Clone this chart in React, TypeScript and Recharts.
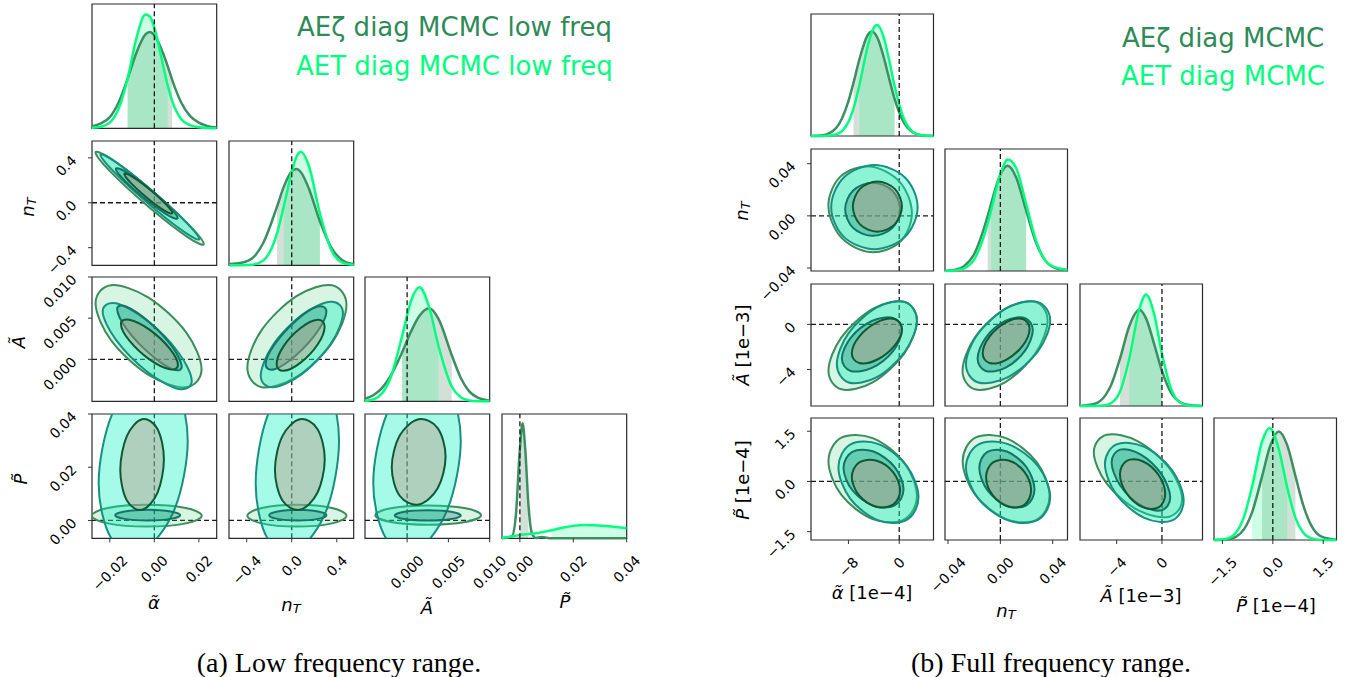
import React from "react";
import {
  Area,
  ComposedChart,
  Line,
  ReferenceArea,
  ReferenceLine,
  Scatter,
  ScatterChart,
  XAxis,
  YAxis,
} from "recharts";

type Pt = [number, number];
type Range = [number, number];

/* ---------------- (a) low frequency range ---------------- */

const LOW_ALPHA_TICKS = [-0.02, 0, 0.02];
const LOW_ALPHA_LABELS = ["\u22120.02", "0.00", "0.02"];
const LOW_NT_TICKS = [-0.4, 0, 0.4];
const LOW_NT_LABELS = ["\u22120.4", "0.0", "0.4"];
const LOW_A_TICKS = [0, 0.005, 0.01];
const LOW_A_LABELS = ["0.000", "0.005", "0.010"];
const LOW_P_TICKS = [0, 0.02, 0.04];
const LOW_P_LABELS = ["0.00", "0.02", "0.04"];

// 1D marginals: grid, density (peak-normalised), 68% interval
const LOW_ALPHA_GRID = [-0.028, -0.024, -0.02, -0.016, -0.012, -0.008, -0.004, -0.002, 0, 0.004, 0.006, 0.008, 0.012, 0.016, 0.02, 0.024, 0.028];
const LOW_ALPHA_AEZ = [0.015, 0.04, 0.09, 0.21, 0.4, 0.61, 0.755, 0.775, 0.75, 0.6, 0.5, 0.39, 0.21, 0.1, 0.045, 0.017, 0.006];
const LOW_ALPHA_AET = [0.004, 0.012, 0.045, 0.16, 0.4, 0.73, 0.915, 0.9, 0.81, 0.5, 0.345, 0.22, 0.075, 0.025, 0.008, 0.002, 0];
const LOW_ALPHA_AEZ_CI: Range = [-0.012, 0.008];
const LOW_ALPHA_AET_CI: Range = [-0.012, 0.006];

const LOW_NT_GRID = [-0.555, -0.45, -0.35, -0.25, -0.13, -0.07, 0, 0.04, 0.08, 0.15, 0.25, 0.35, 0.45, 0.555];
const LOW_NT_AEZ = [0.01, 0.02, 0.057, 0.185, 0.474, 0.633, 0.755, 0.774, 0.751, 0.622, 0.354, 0.144, 0.041, 0.008];
const LOW_NT_AET = [0, 0.001, 0.005, 0.041, 0.258, 0.477, 0.754, 0.869, 0.914, 0.807, 0.419, 0.125, 0.021, 0.002];
const LOW_NT_AEZ_CI: Range = [-0.13, 0.25];
const LOW_NT_AET_CI: Range = [-0.07, 0.25];

const LOW_A_GRID = [-0.0052, -0.004, -0.003, -0.002, -0.0006, 0.0005, 0.0015, 0.0027, 0.0038, 0.0054, 0.0065, 0.0075, 0.0085, 0.01];
const LOW_A_AEZ = [0.018, 0.053, 0.11, 0.204, 0.394, 0.565, 0.688, 0.748, 0.663, 0.372, 0.188, 0.082, 0.031, 0.005];
const LOW_A_AET = [0.003, 0.018, 0.067, 0.19, 0.525, 0.813, 0.917, 0.749, 0.446, 0.119, 0.033, 0.007, 0.001, 0];
const LOW_A_AEZ_CI: Range = [-0.0006, 0.0054];
const LOW_A_AET_CI: Range = [-0.0006, 0.0038];

const LOW_P_GRID = [-0.0068, -0.003, -0.0015, 0, 0.001, 0.002, 0.0032, 0.0045, 0.006, 0.008, 0.012, 0.016, 0.02, 0.024, 0.028, 0.032, 0.036, 0.04];
const LOW_P_AEZ = [0, 0.015, 0.186, 0.718, 0.925, 0.718, 0.27, 0.04, 0.002, 0.01, 0, 0, 0, 0, 0, 0, 0, 0];
const LOW_P_AET = [0.005, 0.015, 0.02, 0.027, 0.03, 0.032, 0.035, 0.037, 0.04, 0.048, 0.065, 0.085, 0.1, 0.107, 0.105, 0.098, 0.09, 0.08];
const LOW_P_AEZ_CI: Range = [0, 0.0032];
const LOW_P_AET_CI: Range = [0.012, 0.04];

// 2D contours (95% and 68%), outline points
const LOW_NT_ALPHA_AEZ_95: Pt[] = [[0.0222, -0.367], [0.0151, -0.188], [-0.0021, 0.125], [-0.0193, 0.388], [-0.0264, 0.447], [-0.0193, 0.268], [-0.0021, -0.045], [0.0151, -0.308]];
const LOW_NT_ALPHA_AET_95: Pt[] = [[0.0202, -0.323], [0.0137, -0.162], [-0.002, 0.124], [-0.0177, 0.368], [-0.0242, 0.427], [-0.0177, 0.266], [-0.002, -0.02], [0.0137, -0.264]];
const LOW_NT_ALPHA_AEZ_68: Pt[] = [[0.0105, -0.136], [0.0064, -0.03], [-0.0034, 0.142], [-0.0132, 0.279], [-0.0173, 0.3], [-0.0132, 0.194], [-0.0034, 0.022], [0.0064, -0.115]];
const LOW_NT_ALPHA_AET_68: Pt[] = [[0.0081, -0.091], [0.0049, -0.006], [-0.0027, 0.13], [-0.0103, 0.238], [-0.0135, 0.255], [-0.0103, 0.17], [-0.0027, 0.034], [0.0049, -0.074]];

const LOW_A_ALPHA_AEZ_95: Pt[] = [[0.0212, -0.0012], [0.0142, 0.0033], [-0.0026, 0.0075], [-0.0194, 0.009], [-0.0264, 0.0068], [-0.0194, 0.0023], [-0.0026, -0.0019], [0.0142, -0.0034]];
const LOW_A_ALPHA_AET_95: Pt[] = [[0.0168, -0.0026], [0.0109, 0.0008], [-0.0032, 0.0047], [-0.0173, 0.0068], [-0.0232, 0.0058], [-0.0173, 0.0024], [-0.0032, -0.0015], [0.0109, -0.0036]];
const LOW_A_ALPHA_AEZ_68: Pt[] = [[0.0123, -0.0009], [0.0081, 0.0015], [-0.0022, 0.0045], [-0.0125, 0.0064], [-0.0167, 0.0061], [-0.0125, 0.0037], [-0.0022, 0.0007], [0.0081, -0.0012]];
const LOW_A_ALPHA_AET_68: Pt[] = [[0.0106, -0.0007], [0.0069, 0.0013], [-0.0022, 0.0036], [-0.0113, 0.0048], [-0.015, 0.0043], [-0.0113, 0.0023], [-0.0022, 0], [0.0069, -0.0012]];

const LOW_A_NT_AEZ_95: Pt[] = [[0.486, 0.0066], [0.357, 0.009], [0.046, 0.0077], [-0.265, 0.0036], [-0.394, -0.001], [-0.265, -0.0034], [0.046, -0.0021], [0.357, 0.002]];
const LOW_A_NT_AET_95: Pt[] = [[0.455, 0.0056], [0.348, 0.007], [0.09, 0.0054], [-0.168, 0.0017], [-0.275, -0.002], [-0.168, -0.0034], [0.09, -0.0018], [0.348, 0.0019]];
const LOW_A_NT_AEZ_68: Pt[] = [[0.308, 0.0058], [0.229, 0.0064], [0.038, 0.0047], [-0.153, 0.0018], [-0.232, -0.0006], [-0.153, -0.0012], [0.038, 0.0005], [0.229, 0.0034]];
const LOW_A_NT_AET_68: Pt[] = [[0.292, 0.004], [0.23, 0.0048], [0.079, 0.0038], [-0.072, 0.0016], [-0.134, -0.0006], [-0.072, -0.0014], [0.079, -0.0004], [0.23, 0.0018]];

const LOW_P_ALPHA_AEZ_95: Pt[] = [[0.0213, 0.0018], [0.0141, 0.0047], [-0.0034, 0.0059], [-0.0209, 0.0047], [-0.0281, 0.0018], [-0.0209, -0.0011], [-0.0034, -0.0023], [0.0141, -0.0011]];
const LOW_P_ALPHA_AET_95: Pt[] = [[0.015, 0.03], [0.0091, 0.051], [-0.005, 0.055], [-0.0191, 0.0397], [-0.025, 0.014], [-0.0191, -0.007], [-0.005, -0.011], [0.0091, 0.0043]];
const LOW_P_ALPHA_AEZ_68: Pt[] = [[0.0116, 0.002], [0.0073, 0.0034], [-0.003, 0.004], [-0.0133, 0.0034], [-0.0176, 0.002], [-0.0133, 0.0006], [-0.003, 0], [0.0073, 0.0006]];
const LOW_P_ALPHA_AET_68: Pt[] = [[0.0043, 0.023], [0.0014, 0.0344], [-0.0055, 0.038], [-0.0124, 0.0316], [-0.0153, 0.019], [-0.0124, 0.0076], [-0.0055, 0.004], [0.0014, 0.0104]];

const LOW_P_NT_AEZ_95: Pt[] = [[0.486, 0.0018], [0.357, 0.0047], [0.046, 0.0059], [-0.265, 0.0047], [-0.394, 0.0018], [-0.265, -0.0011], [0.046, -0.0023], [0.357, -0.0011]];
const LOW_P_NT_AET_95: Pt[] = [[0.42, 0.03], [0.312, 0.051], [0.05, 0.055], [-0.212, 0.0397], [-0.32, 0.014], [-0.212, -0.007], [0.05, -0.011], [0.312, 0.0043]];
const LOW_P_NT_AEZ_68: Pt[] = [[0.308, 0.002], [0.234, 0.0034], [0.054, 0.004], [-0.126, 0.0034], [-0.2, 0.002], [-0.126, 0.0006], [0.054, 0], [0.234, 0.0006]];
const LOW_P_NT_AET_68: Pt[] = [[0.293, 0.023], [0.228, 0.0344], [0.072, 0.038], [-0.084, 0.0316], [-0.149, 0.019], [-0.084, 0.0076], [0.072, 0.004], [0.228, 0.0104]];

const LOW_P_A_AEZ_95: Pt[] = [[0.00895, 0.002], [0.00707, 0.00455], [0.00255, 0.0056], [-0.00197, 0.00455], [-0.00385, 0.002], [-0.00197, -0.00055], [0.00255, -0.0016], [0.00707, -0.00055]];
const LOW_P_A_AET_95: Pt[] = [[0.0065, 0.03], [0.0049, 0.051], [0.0012, 0.055], [-0.0025, 0.0397], [-0.0041, 0.014], [-0.0025, -0.007], [0.0012, -0.011], [0.0049, 0.0043]];
const LOW_P_A_AEZ_68: Pt[] = [[0.0065, 0.0019], [0.00533, 0.00324], [0.0025, 0.0038], [-0.00033, 0.00324], [-0.0015, 0.0019], [-0.00033, 0.00056], [0.0025, 0], [0.00533, 0.00056]];
const LOW_P_A_AET_68: Pt[] = [[0.00466, 0.024], [0.0037, 0.0347], [0.0014, 0.038], [-0.0009, 0.0319], [-0.00186, 0.02], [-0.0009, 0.0093], [0.0014, 0.006], [0.0037, 0.0121]];

/* ---------------- (b) full frequency range ---------------- */

const FULL_ALPHA_TICKS = [-8, 0];
const FULL_ALPHA_LABELS = ["\u22128", "0"];
const FULL_NT_TICKS = [-0.04, 0, 0.04];
const FULL_NT_LABELS = ["\u22120.04", "0.00", "0.04"];
const FULL_A_TICKS = [-4, 0];
const FULL_A_LABELS = ["\u22124", "0"];
const FULL_P_TICKS = [-1.5, 0, 1.5];
const FULL_P_LABELS = ["\u22121.5", "0.0", "1.5"];

const FULL_ALPHA_GRID = [-13.9, -12, -10, -8, -7.2, -6.26, -5, -4.3, -3.5, -2.5, -1.5, -0.74, 0.5, 2, 3.5, 5.4];
const FULL_ALPHA_AEZ = [0.001, 0.007, 0.062, 0.286, 0.437, 0.631, 0.824, 0.856, 0.812, 0.657, 0.452, 0.307, 0.133, 0.035, 0.006, 0];
const FULL_ALPHA_AET = [0, 0.001, 0.012, 0.116, 0.227, 0.42, 0.728, 0.855, 0.91, 0.819, 0.6, 0.412, 0.174, 0.04, 0.006, 0];
const FULL_ALPHA_AEZ_CI: Range = [-7.2, -0.74];
const FULL_ALPHA_AET_CI: Range = [-6.26, -0.74];

const FULL_NT_GRID = [-0.0425, -0.035, -0.028, -0.02, -0.0097, -0.0071, 0, 0.0056, 0.012, 0.0197, 0.027, 0.034, 0.042, 0.0516];
const FULL_NT_AEZ = [0.001, 0.009, 0.037, 0.139, 0.45, 0.55, 0.79, 0.862, 0.769, 0.496, 0.24, 0.091, 0.025, 0.008];
const FULL_NT_AET = [0, 0.004, 0.02, 0.095, 0.388, 0.497, 0.791, 0.913, 0.846, 0.551, 0.259, 0.091, 0.03, 0.01];
const FULL_NT_AEZ_CI: Range = [-0.0097, 0.0197];
const FULL_NT_AET_CI: Range = [-0.0071, 0.0197];

const FULL_A_GRID = [-7.24, -6, -5, -4.5, -3.71, -2.88, -2, -1.4, -0.7, 0, 0.8, 1.6, 2.5, 3.58];
const FULL_A_AEZ = [0.001, 0.016, 0.087, 0.17, 0.388, 0.656, 0.788, 0.716, 0.511, 0.287, 0.109, 0.031, 0.006, 0.001];
const FULL_A_AET = [0, 0, 0.006, 0.022, 0.117, 0.392, 0.795, 0.913, 0.756, 0.429, 0.142, 0.029, 0.003, 0];
const FULL_A_AEZ_CI: Range = [-3.71, 0];
const FULL_A_AET_CI: Range = [-2.88, 0];

const FULL_P_GRID = [-1.77, -1.4, -1.1, -0.85, -0.615, -0.318, -0.1, 0.178, 0.425, 0.674, 0.9, 1.15, 1.45, 1.89];
const FULL_P_AEZ = [0, 0.004, 0.026, 0.091, 0.229, 0.523, 0.753, 0.89, 0.78, 0.523, 0.289, 0.116, 0.028, 0.002];
const FULL_P_AET = [0, 0.009, 0.06, 0.196, 0.44, 0.808, 0.918, 0.745, 0.435, 0.181, 0.061, 0.013, 0.001, 0];
const FULL_P_AEZ_CI: Range = [-0.318, 0.674];
const FULL_P_AET_CI: Range = [-0.615, 0.425];

const FULL_NT_ALPHA_AEZ_95: Pt[] = [[2.0, 0.002], [0.07, 0.0261], [-4.58, 0.0378], [-9.23, 0.0303], [-11.16, 0.008], [-9.23, -0.0161], [-4.58, -0.0278], [0.07, -0.0203]];
const FULL_NT_ALPHA_AET_95: Pt[] = [[2.9, 0.0067], [0.9, 0.0295], [-3.91, 0.039], [-8.73, 0.0295], [-10.72, 0.0067], [-8.73, -0.0161], [-3.91, -0.0256], [0.9, -0.0161]];
const FULL_NT_ALPHA_AEZ_68: Pt[] = [[0.16, 0.0051], [-1.11, 0.0195], [-4.18, 0.0255], [-7.25, 0.0195], [-8.52, 0.0051], [-7.25, -0.0093], [-4.18, -0.0153], [-1.11, -0.0093]];
const FULL_NT_ALPHA_AET_68: Pt[] = [[0.43, 0.0071], [-0.7, 0.0207], [-3.44, 0.0263], [-6.18, 0.0207], [-7.31, 0.0071], [-6.18, -0.0065], [-3.44, -0.0121], [-0.7, -0.0065]];

const FULL_A_ALPHA_AEZ_95: Pt[] = [[2.79, 0.35], [0.75, 2.0], [-4.18, 1.38], [-9.11, -1.15], [-11.15, -4.11], [-9.11, -5.76], [-4.18, -5.14], [0.75, -2.61]];
const FULL_A_ALPHA_AET_95: Pt[] = [[2.79, 0.35], [0.94, 1.97], [-3.52, 1.5], [-7.98, -0.78], [-9.83, -3.53], [-7.98, -5.15], [-3.52, -4.68], [0.94, -2.4]];
const FULL_A_ALPHA_AEZ_68: Pt[] = [[0.42, -0.53], [-0.97, 0.57], [-4.31, 0.3], [-7.65, -1.19], [-9.04, -3.03], [-7.65, -4.13], [-4.31, -3.86], [-0.97, -2.37]];
const FULL_A_ALPHA_AET_68: Pt[] = [[0.43, -0.38], [-0.73, 0.47], [-3.52, 0.18], [-6.31, -1.08], [-7.47, -2.58], [-6.31, -3.43], [-3.52, -3.14], [-0.73, -1.88]];

const FULL_A_NT_AEZ_95: Pt[] = [[0.0361, 0.35], [0.0266, 2.0], [0.0036, 1.38], [-0.0194, -1.15], [-0.0289, -4.11], [-0.0194, -5.76], [0.0036, -5.14], [0.0266, -2.61]];
const FULL_A_NT_AET_95: Pt[] = [[0.0381, 0.35], [0.0287, 1.97], [0.0059, 1.5], [-0.0169, -0.78], [-0.0263, -3.53], [-0.0169, -5.15], [0.0059, -4.68], [0.0287, -2.4]];
const FULL_A_NT_AEZ_68: Pt[] = [[0.0248, -0.53], [0.0186, 0.57], [0.0037, 0.3], [-0.0112, -1.19], [-0.0174, -3.03], [-0.0112, -4.13], [0.0037, -3.86], [0.0186, -2.37]];
const FULL_A_NT_AET_68: Pt[] = [[0.0223, -0.38], [0.0171, 0.47], [0.0044, 0.18], [-0.0083, -1.08], [-0.0135, -2.58], [-0.0083, -3.43], [0.0044, -3.14], [0.0171, -1.88]];

const FULL_P_ALPHA_AEZ_95: Pt[] = [[2.79, -0.436], [0.75, 0.572], [-4.18, 1.294], [-9.11, 1.307], [-11.15, 0.604], [-9.11, -0.404], [-4.18, -1.126], [0.75, -1.139]];
const FULL_P_ALPHA_AET_95: Pt[] = [[3.04, -0.475], [1.19, 0.463], [-3.27, 1.115], [-7.73, 1.099], [-9.58, 0.425], [-7.73, -0.513], [-3.27, -1.165], [1.19, -1.149]];
const FULL_P_ALPHA_AEZ_68: Pt[] = [[0.68, -0.236], [-0.71, 0.43], [-4.05, 0.894], [-7.39, 0.883], [-8.78, 0.404], [-7.39, -0.262], [-4.05, -0.726], [-0.71, -0.715]];
const FULL_P_ALPHA_AET_68: Pt[] = [[0.15, -0.266], [-0.97, 0.28], [-3.66, 0.624], [-6.35, 0.563], [-7.47, 0.134], [-6.35, -0.412], [-3.66, -0.756], [-0.97, -0.695]];

const FULL_P_NT_AEZ_95: Pt[] = [[0.0376, -0.436], [0.0279, 0.572], [0.0044, 1.294], [-0.0191, 1.307], [-0.0288, 0.604], [-0.0191, -0.404], [0.0044, -1.126], [0.0279, -1.139]];
const FULL_P_NT_AET_95: Pt[] = [[0.0381, -0.475], [0.0287, 0.463], [0.0059, 1.115], [-0.0169, 1.099], [-0.0263, 0.425], [-0.0169, -0.513], [0.0059, -1.165], [0.0287, -1.149]];
const FULL_P_NT_AEZ_68: Pt[] = [[0.0261, -0.236], [0.0199, 0.43], [0.005, 0.894], [-0.0099, 0.883], [-0.0161, 0.404], [-0.0099, -0.262], [0.005, -0.726], [0.0199, -0.715]];
const FULL_P_NT_AET_68: Pt[] = [[0.0235, -0.266], [0.0185, 0.28], [0.0063, 0.624], [-0.0059, 0.563], [-0.0109, 0.134], [-0.0059, -0.412], [0.0063, -0.756], [0.0185, -0.695]];

const FULL_P_A_AEZ_95: Pt[] = [[1.78, -0.53], [0.64, 0.403], [-2.12, 1.2], [-4.88, 1.393], [-6.02, 0.87], [-4.88, -0.063], [-2.12, -0.86], [0.64, -1.053]];
const FULL_P_A_AET_95: Pt[] = [[1.92, -0.577], [0.9, 0.333], [-1.56, 1.03], [-4.02, 1.106], [-5.04, 0.517], [-4.02, -0.393], [-1.56, -1.09], [0.9, -1.166]];
const FULL_P_A_AEZ_68: Pt[] = [[0.73, -0.478], [-0.03, 0.211], [-1.86, 0.803], [-3.69, 0.951], [-4.45, 0.568], [-3.69, -0.121], [-1.86, -0.713], [-0.03, -0.861]];
const FULL_P_A_AET_68: Pt[] = [[0.29, -0.379], [-0.3, 0.193], [-1.71, 0.604], [-3.12, 0.614], [-3.71, 0.217], [-3.12, -0.355], [-1.71, -0.766], [-0.3, -0.776]];

/* ---------------- layout & styles ---------------- */

const M = 4; // inner margin so the frame stroke is not clipped
const YW = 100; // room for rotated y tick labels
const XH = 100; // room for rotated x tick labels
const TICK_FONT = 14;
const FONT = "'DejaVu Sans', sans-serif";

const AEZ_LINE = "#3b8f62";
const AET_LINE = "#00ff7f";
const AEZ_BAND = "rgba(80,130,100,0.25)";
const AET_BAND = "rgba(0,255,127,0.2)";

interface ContourStyle {
  fill: string;
  stroke: string;
}
// drawn in this order: AEζ 95%, AET 95%, AEζ 68%, AET 68%
const CONTOUR_STYLES: ContourStyle[] = [
  { fill: "rgba(60,200,110,0.2)", stroke: "#3b8c5e" },
  { fill: "rgba(0,240,190,0.35)", stroke: "#18907f" },
  { fill: "rgba(20,120,100,0.3)", stroke: "#137566" },
  { fill: "rgba(190,150,130,0.42)", stroke: "#0e5a36" },
];

interface Axis {
  domain: Range;
  ticks: number[];
  labels: string[];
}

interface Grid {
  cols: number[];
  rows: number[];
  w: number;
  h: number;
}

const LOW_GRID: Grid = { cols: [92, 228.7, 365.4, 502.1], rows: [3.8, 140.5, 277.2, 413.9], w: 124.7, h: 124.3 };
const FULL_GRID: Grid = { cols: [811, 945.45, 1079.9, 1214.35], rows: [14, 148.8, 283.6, 418.4], w: 122.5, h: 122 };

const LOW_AXES: Axis[] = [
  { domain: [-0.028, 0.028], ticks: LOW_ALPHA_TICKS, labels: LOW_ALPHA_LABELS },
  { domain: [-0.557, 0.55], ticks: LOW_NT_TICKS, labels: LOW_NT_LABELS },
  { domain: [-0.0051, 0.01], ticks: LOW_A_TICKS, labels: LOW_A_LABELS },
  { domain: [-0.0067, 0.04], ticks: LOW_P_TICKS, labels: LOW_P_LABELS },
];
const FULL_AXES: Axis[] = [
  { domain: [-13.9, 5.4], ticks: FULL_ALPHA_TICKS, labels: FULL_ALPHA_LABELS },
  { domain: [-0.0423, 0.0513], ticks: FULL_NT_TICKS, labels: FULL_NT_LABELS },
  { domain: [-7.24, 3.58], ticks: FULL_A_TICKS, labels: FULL_A_LABELS },
  { domain: [-1.75, 1.895], ticks: FULL_P_TICKS, labels: FULL_P_LABELS },
];

interface MarginalRow {
  x: number;
  aez: number;
  aet: number;
  aezBand: number | null;
  aetBand: number | null;
}

function marginalRows(grid: number[], aez: number[], aet: number[], aezCi: Range, aetCi: Range): MarginalRow[] {
  return grid.map((x, i) => ({
    x,
    aez: aez[i],
    aet: aet[i],
    aezBand: x >= aezCi[0] && x <= aezCi[1] ? aez[i] : null,
    aetBand: x >= aetCi[0] && x <= aetCi[1] ? aet[i] : null,
  }));
}

const LOW_MARGINALS = [
  marginalRows(LOW_ALPHA_GRID, LOW_ALPHA_AEZ, LOW_ALPHA_AET, LOW_ALPHA_AEZ_CI, LOW_ALPHA_AET_CI),
  marginalRows(LOW_NT_GRID, LOW_NT_AEZ, LOW_NT_AET, LOW_NT_AEZ_CI, LOW_NT_AET_CI),
  marginalRows(LOW_A_GRID, LOW_A_AEZ, LOW_A_AET, LOW_A_AEZ_CI, LOW_A_AET_CI),
  marginalRows(LOW_P_GRID, LOW_P_AEZ, LOW_P_AET, LOW_P_AEZ_CI, LOW_P_AET_CI),
];
const FULL_MARGINALS = [
  marginalRows(FULL_ALPHA_GRID, FULL_ALPHA_AEZ, FULL_ALPHA_AET, FULL_ALPHA_AEZ_CI, FULL_ALPHA_AET_CI),
  marginalRows(FULL_NT_GRID, FULL_NT_AEZ, FULL_NT_AET, FULL_NT_AEZ_CI, FULL_NT_AET_CI),
  marginalRows(FULL_A_GRID, FULL_A_AEZ, FULL_A_AET, FULL_A_AEZ_CI, FULL_A_AET_CI),
  marginalRows(FULL_P_GRID, FULL_P_AEZ, FULL_P_AET, FULL_P_AEZ_CI, FULL_P_AET_CI),
];

interface Pair {
  row: number;
  col: number;
  sets: Pt[][];
}

const LOW_PAIRS: Pair[] = [
  { row: 1, col: 0, sets: [LOW_NT_ALPHA_AEZ_95, LOW_NT_ALPHA_AET_95, LOW_NT_ALPHA_AEZ_68, LOW_NT_ALPHA_AET_68] },
  { row: 2, col: 0, sets: [LOW_A_ALPHA_AEZ_95, LOW_A_ALPHA_AET_95, LOW_A_ALPHA_AEZ_68, LOW_A_ALPHA_AET_68] },
  { row: 2, col: 1, sets: [LOW_A_NT_AEZ_95, LOW_A_NT_AET_95, LOW_A_NT_AEZ_68, LOW_A_NT_AET_68] },
  { row: 3, col: 0, sets: [LOW_P_ALPHA_AEZ_95, LOW_P_ALPHA_AET_95, LOW_P_ALPHA_AEZ_68, LOW_P_ALPHA_AET_68] },
  { row: 3, col: 1, sets: [LOW_P_NT_AEZ_95, LOW_P_NT_AET_95, LOW_P_NT_AEZ_68, LOW_P_NT_AET_68] },
  { row: 3, col: 2, sets: [LOW_P_A_AEZ_95, LOW_P_A_AET_95, LOW_P_A_AEZ_68, LOW_P_A_AET_68] },
];
const FULL_PAIRS: Pair[] = [
  { row: 1, col: 0, sets: [FULL_NT_ALPHA_AEZ_95, FULL_NT_ALPHA_AET_95, FULL_NT_ALPHA_AEZ_68, FULL_NT_ALPHA_AET_68] },
  { row: 2, col: 0, sets: [FULL_A_ALPHA_AEZ_95, FULL_A_ALPHA_AET_95, FULL_A_ALPHA_AEZ_68, FULL_A_ALPHA_AET_68] },
  { row: 2, col: 1, sets: [FULL_A_NT_AEZ_95, FULL_A_NT_AET_95, FULL_A_NT_AEZ_68, FULL_A_NT_AET_68] },
  { row: 3, col: 0, sets: [FULL_P_ALPHA_AEZ_95, FULL_P_ALPHA_AET_95, FULL_P_ALPHA_AEZ_68, FULL_P_ALPHA_AET_68] },
  { row: 3, col: 1, sets: [FULL_P_NT_AEZ_95, FULL_P_NT_AET_95, FULL_P_NT_AEZ_68, FULL_P_NT_AET_68] },
  { row: 3, col: 2, sets: [FULL_P_A_AEZ_95, FULL_P_A_AET_95, FULL_P_A_AEZ_68, FULL_P_A_AET_68] },
];

/* ---------------- rendering helpers ---------------- */

const glyphWidth = (c: string) => (c === "." ? 0.318 : c === "\u2212" ? 0.838 : 0.636) * TICK_FONT;
const textWidth = (s: string) => Array.from(s).reduce((a, c) => a + glyphWidth(c), 0);

const tickLabel = (axis: Axis, v: number) => {
  const i = axis.ticks.findIndex((t) => Math.abs(t - v) < 1e-12);
  return i >= 0 ? axis.labels[i] : String(v);
};

// x tick labels: rotated 45°, bounding box centred under the tick
const xTick = (axis: Axis, base: number) => (props: any) => {
  const { x, payload } = props;
  const s = tickLabel(axis, payload.value);
  const cy = base + 15 + (textWidth(s) + 13) * 0.3536;
  return (
    <text x={x} y={cy} textAnchor="middle" dominantBaseline="central" fontSize={TICK_FONT} fontFamily={FONT} fill="#000" transform={`rotate(-45 ${x} ${cy})`}>
      {s}
    </text>
  );
};

// y tick labels: rotated 45°, right end anchored at the tick
const yTick = (axis: Axis, axisX: number) => (props: any) => {
  const { y, payload } = props;
  const s = tickLabel(axis, payload.value);
  const ax = axisX - 18;
  return (
    <text x={ax} y={y} textAnchor="end" dominantBaseline="central" fontSize={TICK_FONT} fontFamily={FONT} fill="#000" transform={`rotate(-45 ${ax} ${y})`}>
      {s}
    </text>
  );
};

// smooth closed outline through the contour points (Catmull-Rom)
function closedSpline(p: { x: number; y: number }[]) {
  const n = p.length;
  let d = `M${p[0].x},${p[0].y}`;
  for (let i = 0; i < n; i++) {
    const a = p[(i - 1 + n) % n];
    const b = p[i];
    const c = p[(i + 1) % n];
    const e = p[(i + 2) % n];
    d += `C${b.x + (c.x - a.x) / 6},${b.y + (c.y - a.y) / 6} ${c.x - (e.x - b.x) / 6},${c.y - (e.y - b.y) / 6} ${c.x},${c.y}`;
  }
  return d + "Z";
}

const contourLine = (s: ContourStyle) => (props: any) => (
  <path d={closedSpline(props.points)} fill={s.fill} stroke={s.stroke} strokeWidth={2} strokeLinejoin="round" />
);

const noDot = () => <g />;

const dashed = { stroke: "#1a1a1a", strokeWidth: 1.3, strokeDasharray: "5 3" };

function xAxisEl(axis: Axis, show: boolean, base: number) {
  return (
    <XAxis
      type="number"
      dataKey="x"
      domain={axis.domain}
      allowDataOverflow
      hide={!show}
      height={XH}
      ticks={axis.ticks}
      interval={0}
      tickSize={4}
      axisLine={false}
      tickLine={{ stroke: "#333" }}
      tick={xTick(axis, base)}
    />
  );
}

function yAxisEl(axis: Axis, show: boolean, axisX: number) {
  return (
    <YAxis
      type="number"
      dataKey="y"
      domain={axis.domain}
      allowDataOverflow
      hide={!show}
      width={YW}
      ticks={axis.ticks}
      interval={0}
      tickSize={4}
      axisLine={false}
      tickLine={{ stroke: "#333" }}
      tick={yTick(axis, axisX)}
    />
  );
}

function MarginalPanel({ grid, idx, axis, rows, showX }: { grid: Grid; idx: number; axis: Axis; rows: MarginalRow[]; showX: boolean }) {
  return (
    <div style={{ position: "absolute", left: grid.cols[idx] - M, top: grid.rows[idx] - M }}>
      <ComposedChart
        width={grid.w + 2 * M}
        height={grid.h + 2 * M + (showX ? XH : 0)}
        data={rows}
        margin={{ top: M, right: M, bottom: M, left: M }}
      >
        {xAxisEl(axis, showX, M + grid.h)}
        <YAxis type="number" domain={[0, 1]} hide />
        <Area dataKey="aezBand" type="monotone" stroke="none" fill={AEZ_BAND} fillOpacity={1} connectNulls={false} isAnimationActive={false} />
        <Area dataKey="aetBand" type="monotone" stroke="none" fill={AET_BAND} fillOpacity={1} connectNulls={false} isAnimationActive={false} />
        <Line dataKey="aez" type="monotone" stroke={AEZ_LINE} strokeWidth={2.5} dot={false} isAnimationActive={false} />
        <Line dataKey="aet" type="monotone" stroke={AET_LINE} strokeWidth={2.5} dot={false} isAnimationActive={false} />
        <ReferenceLine x={0} {...dashed} />
        <ReferenceArea x1={axis.domain[0]} x2={axis.domain[1]} y1={0} y2={1} fill="none" stroke="#2b2b2b" strokeWidth={1.2} />
      </ComposedChart>
    </div>
  );
}

function PairPanel({ grid, pair, xa, ya, showX, showY }: { grid: Grid; pair: Pair; xa: Axis; ya: Axis; showX: boolean; showY: boolean }) {
  const yw = showY ? YW : 0;
  return (
    <div style={{ position: "absolute", left: grid.cols[pair.col] - M - yw, top: grid.rows[pair.row] - M }}>
      <ScatterChart
        width={grid.w + 2 * M + yw}
        height={grid.h + 2 * M + (showX ? XH : 0)}
        margin={{ top: M, right: M, bottom: M, left: M }}
      >
        {xAxisEl(xa, showX, M + grid.h)}
        {yAxisEl(ya, showY, M + yw)}
        {pair.sets.map((pts, i) => (
          <Scatter
            key={i}
            data={pts.map(([x, y]) => ({ x, y }))}
            shape={noDot}
            line={contourLine(CONTOUR_STYLES[i])}
            lineType="joint"
            fill={CONTOUR_STYLES[i].stroke}
            isAnimationActive={false}
          />
        ))}
        <ReferenceLine x={0} {...dashed} />
        <ReferenceLine y={0} {...dashed} />
        <ReferenceArea x1={xa.domain[0]} x2={xa.domain[1]} y1={ya.domain[0]} y2={ya.domain[1]} fill="none" stroke="#2b2b2b" strokeWidth={1.2} />
      </ScatterChart>
    </div>
  );
}

function Corner({ grid, axes, marginals, pairs }: { grid: Grid; axes: Axis[]; marginals: MarginalRow[][]; pairs: Pair[] }) {
  const last = axes.length - 1;
  return (
    <>
      {marginals.map((rows, i) => (
        <MarginalPanel key={`m${i}`} grid={grid} idx={i} axis={axes[i]} rows={rows} showX={i === last} />
      ))}
      {pairs.map((p) => (
        <PairPanel key={`p${p.row}${p.col}`} grid={grid} pair={p} xa={axes[p.col]} ya={axes[p.row]} showX={p.row === last} showY={p.col === 0} />
      ))}
    </>
  );
}

/* ---------------- axis labels, legends, captions ---------------- */

const it = (s: string) => <tspan fontStyle="italic">{s}</tspan>;
const nT = (
  <>
    {it("n")}
    <tspan fontStyle="italic" fontSize={13} dy={4}>
      T
    </tspan>
  </>
);
const ALPHA = "\u03b1\u0303";
const ATIL = "\u00c3";
const PTIL = "P\u0303";

interface AxisText {
  x: number;
  y: number;
  v: boolean;
  node: React.ReactNode;
}

const LABELS: AxisText[] = [
  { x: 154, y: 602, v: false, node: it(ALPHA) },
  { x: 291, y: 604, v: false, node: nT },
  { x: 427, y: 607, v: false, node: it(ATIL) },
  { x: 565, y: 601, v: false, node: it(PTIL) },
  { x: 27, y: 207, v: true, node: nT },
  { x: 18, y: 342, v: true, node: it(ATIL) },
  { x: 20, y: 479, v: true, node: it(PTIL) },
  { x: 872, y: 592, v: false, node: <>{it(ALPHA)}<tspan> [1e{"\u2212"}4]</tspan></> },
  { x: 1006, y: 610, v: false, node: nT },
  { x: 1141, y: 595, v: false, node: <>{it(ATIL)}<tspan> [1e{"\u2212"}3]</tspan></> },
  { x: 1276, y: 605, v: false, node: <>{it(PTIL)}<tspan> [1e{"\u2212"}4]</tspan></> },
  { x: 741, y: 211, v: true, node: nT },
  { x: 742, y: 345, v: true, node: <>{it(ATIL)}<tspan> [1e{"\u2212"}3]</tspan></> },
  { x: 742, y: 480, v: true, node: <>{it(PTIL)}<tspan> [1e{"\u2212"}4]</tspan></> },
];

function Overlay() {
  return (
    <svg width={1363} height={677} style={{ position: "absolute", left: 0, top: 0, pointerEvents: "none" }}>
      {LABELS.map((l, i) => (
        <text
          key={i}
          x={l.x}
          y={l.y}
          textAnchor="middle"
          dominantBaseline="central"
          fontSize={18}
          fontFamily={FONT}
          fill="#000"
          transform={l.v ? `rotate(-90 ${l.x} ${l.y})` : undefined}
        >
          {l.node}
        </text>
      ))}
      <g fontFamily={FONT} fontSize={26}>
        <text x={297} y={36} fill="#2e8b57">AEζ diag MCMC low freq</text>
        <text x={296} y={75} fill="#00ff7f">AET diag MCMC low freq</text>
        <text x={1122} y={47} fill="#2e8b57">AEζ diag MCMC</text>
        <text x={1121} y={85} fill="#00ff7f">AET diag MCMC</text>
      </g>
      <g fontFamily="'Liberation Serif', serif" fontSize={28} fill="#000" textAnchor="middle">
        <text x={339} y={672}>(a) Low frequency range.</text>
        <text x={1051} y={672}>(b) Full frequency range.</text>
      </g>
    </svg>
  );
}

export default function App() {
  return (
    <div style={{ position: "absolute", left: 0, top: 0, width: 1363, height: 677, background: "#fff", overflow: "hidden" }}>
      {/* tick labels rotate past each small panel's own box */}
      <style>{".recharts-surface{overflow:visible}.recharts-wrapper{overflow:visible}"}</style>
      <Corner grid={LOW_GRID} axes={LOW_AXES} marginals={LOW_MARGINALS} pairs={LOW_PAIRS} />
      <Corner grid={FULL_GRID} axes={FULL_AXES} marginals={FULL_MARGINALS} pairs={FULL_PAIRS} />
      <Overlay />
    </div>
  );
}
